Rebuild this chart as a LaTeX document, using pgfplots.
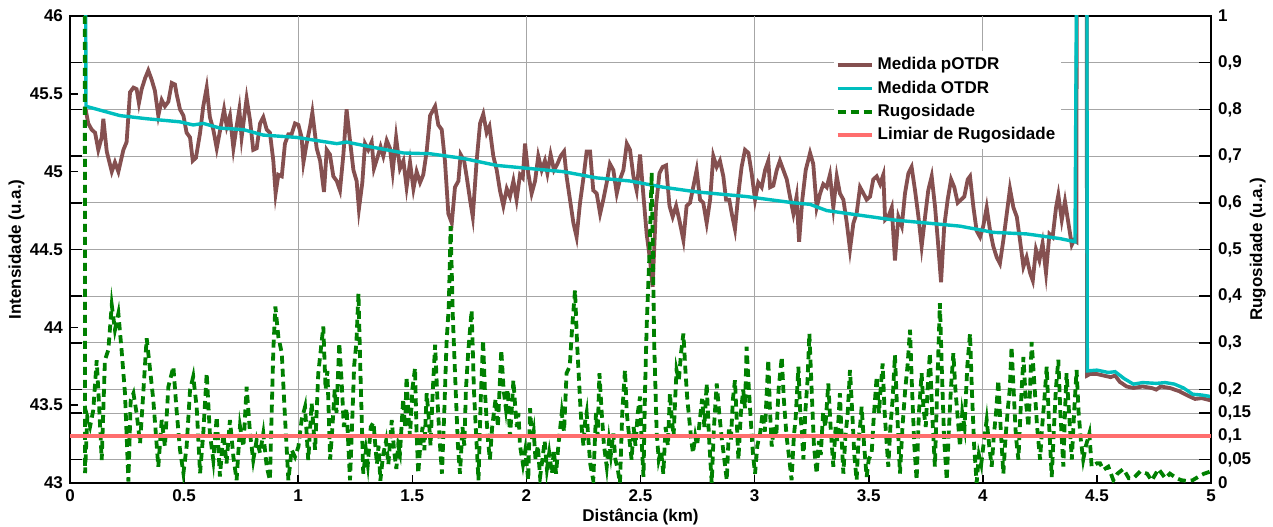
\documentclass[border=0pt]{standalone}
\usepackage{fontspec}
\setmainfont{Liberation Sans}
\usepackage{pgfplots}
\pgfplotsset{compat=1.18}
\usetikzlibrary{calc}

\definecolor{potdr}{RGB}{133,80,80}
\definecolor{otdr}{RGB}{0,190,190}
\definecolor{rug}{RGB}{0,128,0}
\definecolor{lim}{RGB}{255,110,110}

\newcommand{\lblfont}{\fontsize{8.5}{10}\selectfont\bfseries}

\pgfplotsset{
  common/.style={
    scale only axis, width=570.5pt, height=233.5pt,
    xmin=0, xmax=5,
    tick label style={font=\lblfont},
    /pgf/number format/assume math mode=true,
    axis line style={line width=1pt},
    every tick/.style={black, line width=0.8pt},
    tick align=inside,
  },
}

\begin{document}
\begin{tikzpicture}
\begin{axis}[common, name=ax,
  ymin=43, ymax=46,
  ytick={43,43.5,...,46},
  xtick={0,0.5,...,5},
  xtick pos=bottom, ytick pos=left,
  major tick length=4pt,
  extra y ticks={43.15,43.3,43.45,43.6,43.9,44.2,44.5,44.8,45.1,45.4,45.7},
  extra y tick labels={},
  extra y tick style={grid=major, major tick length=6pt},
  extra x ticks={1,2,3,4},
  extra x tick labels={},
  extra x tick style={grid=major},
  major grid style={gray!70, line width=0.4pt},
  xlabel={Distância (km)},
  ylabel={Intensidade (u.a.)},
  every axis x label/.style={font=\lblfont, at={(axis description cs:0.5,-0.072)}, anchor=center},
  every axis y label/.style={font=\lblfont, at={(axis description cs:-0.047,0.5)}, rotate=90, anchor=center},
]
\addplot[potdr, line width=1.9pt] table {
0.066 45.42
0.080 45.31
0.095 45.27
0.110 45.25
0.124 45.14
0.139 45.22
0.146 45.34
0.161 45.13
0.183 45.00
0.197 45.06
0.212 45.00
0.234 45.14
0.248 45.19
0.263 45.51
0.278 45.54
0.292 45.53
0.302 45.44
0.314 45.53
0.329 45.60
0.343 45.65
0.358 45.59
0.372 45.52
0.387 45.36
0.402 45.46
0.416 45.42
0.431 45.45
0.446 45.57
0.460 45.56
0.467 45.50
0.482 45.40
0.497 45.36
0.511 45.25
0.526 45.22
0.538 45.07
0.552 45.09
0.570 45.25
0.584 45.42
0.599 45.54
0.613 45.35
0.628 45.27
0.643 45.15
0.657 45.26
0.675 45.40
0.687 45.29
0.701 45.36
0.716 45.15
0.730 45.29
0.742 45.40
0.752 45.22
0.774 45.47
0.789 45.33
0.803 45.14
0.818 45.15
0.833 45.31
0.847 45.35
0.862 45.27
0.876 45.25
0.891 45.07
0.901 44.86
0.913 44.98
0.928 44.97
0.942 45.18
0.957 45.24
0.971 45.24
0.986 45.31
1.001 45.30
1.015 45.22
1.023 45.06
1.037 45.18
1.052 45.29
1.062 45.38
1.081 45.15
1.096 45.07
1.113 44.87
1.125 45.14
1.139 45.11
1.154 44.97
1.169 44.94
1.183 44.88
1.198 45.11
1.212 45.40
1.227 45.20
1.242 45.01
1.256 44.94
1.266 44.76
1.281 44.93
1.293 45.18
1.307 45.14
1.322 45.19
1.332 45.02
1.347 45.09
1.361 45.16
1.373 45.10
1.388 45.20
1.402 45.15
1.414 45.00
1.429 45.22
1.446 45.02
1.461 45.07
1.475 44.90
1.490 45.06
1.505 44.89
1.519 45.00
1.534 44.93
1.548 44.98
1.563 45.13
1.578 45.36
1.600 45.42
1.614 45.30
1.629 45.27
1.643 45.07
1.658 44.73
1.673 44.67
1.687 44.90
1.702 44.94
1.712 45.11
1.727 45.07
1.738 44.97
1.753 44.82
1.765 44.71
1.782 45.07
1.797 45.31
1.811 45.37
1.826 45.25
1.838 45.29
1.855 45.10
1.870 45.01
1.884 44.88
1.899 44.78
1.914 44.89
1.928 44.84
1.943 44.94
1.957 44.82
1.972 44.98
1.984 44.96
1.994 45.18
2.008 44.99
2.023 44.86
2.038 44.94
2.052 45.10
2.067 45.01
2.081 45.07
2.092 44.99
2.106 45.11
2.121 45.01
2.136 45.05
2.150 45.10
2.165 45.13
2.176 44.97
2.191 44.82
2.206 44.67
2.220 44.58
2.235 44.80
2.250 44.96
2.264 45.13
2.279 45.13
2.293 44.88
2.308 44.86
2.323 44.73
2.337 44.82
2.352 44.93
2.366 45.05
2.381 45.01
2.396 44.86
2.410 44.95
2.425 45.01
2.440 45.18
2.454 45.14
2.469 44.97
2.483 44.88
2.498 45.11
2.512 44.86
2.527 44.60
2.542 44.43
2.553 44.26
2.568 44.78
2.583 44.99
2.597 45.03
2.612 45.04
2.627 44.78
2.641 44.71
2.656 44.78
2.670 44.69
2.688 44.56
2.702 44.78
2.717 44.80
2.731 44.90
2.746 45.01
2.761 44.82
2.775 44.80
2.790 44.67
2.805 44.82
2.819 45.10
2.834 45.03
2.848 45.07
2.863 44.97
2.875 44.82
2.889 44.82
2.900 44.73
2.914 44.63
2.929 44.86
2.943 45.03
2.958 45.14
2.973 45.12
2.987 44.99
3.002 44.82
3.016 44.93
3.031 44.90
3.046 45.01
3.060 45.07
3.068 44.90
3.082 44.91
3.097 45.01
3.111 45.07
3.126 45.01
3.141 44.95
3.155 44.84
3.170 44.73
3.184 44.84
3.195 44.55
3.209 44.82
3.224 45.01
3.243 45.12
3.257 45.05
3.272 44.77
3.287 44.86
3.301 44.92
3.316 44.90
3.330 44.98
3.345 44.77
3.360 44.97
3.374 44.86
3.389 44.82
3.404 44.67
3.418 44.50
3.433 44.67
3.447 44.73
3.462 44.90
3.477 44.86
3.491 44.82
3.506 44.84
3.520 44.95
3.535 44.97
3.550 44.92
3.564 44.98
3.572 44.69
3.586 44.71
3.601 44.77
3.615 44.43
3.630 44.71
3.645 44.65
3.659 44.86
3.674 44.99
3.688 45.03
3.703 44.88
3.718 44.71
3.732 44.52
3.747 44.71
3.761 44.88
3.776 44.97
3.791 44.77
3.805 44.52
3.817 44.29
3.831 44.65
3.846 44.82
3.861 44.95
3.875 44.90
3.890 44.80
3.905 44.82
3.919 44.84
3.934 44.95
3.944 44.97
3.959 44.77
3.973 44.62
3.988 44.58
4.002 44.65
4.017 44.77
4.032 44.62
4.046 44.52
4.061 44.45
4.075 44.41
4.090 44.56
4.105 44.73
4.119 44.89
4.134 44.77
4.149 44.71
4.163 44.56
4.178 44.39
4.192 44.45
4.207 44.35
4.219 44.30
4.233 44.50
4.248 44.43
4.262 44.54
4.277 44.35
4.292 44.60
4.306 44.58
4.321 44.77
4.331 44.85
4.346 44.69
4.360 44.81
4.375 44.67
4.390 44.53
4.400 44.56
4.410 44.55
4.412 46.50
4.455 46.50
4.457 43.69
4.470 43.70
4.500 43.70
4.530 43.69
4.560 43.68
4.580 43.69
4.600 43.65
4.630 43.62
4.660 43.61
4.700 43.62
4.740 43.61
4.760 43.60
4.780 43.62
4.820 43.61
4.860 43.59
4.900 43.56
4.930 43.54
4.960 43.545
5.000 43.53
};
\addplot[otdr, line width=1.7pt] table {
0.068 46.50
0.070 45.42
0.219 45.36
0.336 45.34
0.482 45.32
0.540 45.30
0.584 45.31
0.657 45.28
0.760 45.27
0.847 45.235
0.993 45.22
1.169 45.18
1.212 45.19
1.315 45.16
1.461 45.12
1.578 45.115
1.724 45.085
1.870 45.04
2.016 45.02
2.162 45.00
2.308 44.96
2.454 44.94
2.600 44.90
2.746 44.87
2.892 44.85
2.965 44.84
3.066 44.82
3.170 44.80
3.243 44.79
3.316 44.75
3.462 44.72
3.608 44.69
3.754 44.67
3.900 44.65
4.046 44.61
4.192 44.60
4.338 44.57
4.404 44.55
4.412 46.50
4.456 46.50
4.458 43.72
4.500 43.725
4.550 43.71
4.580 43.715
4.620 43.67
4.660 43.635
4.700 43.645
4.760 43.64
4.800 43.645
4.840 43.635
4.880 43.61
4.920 43.57
4.960 43.565
5.000 43.555
};
\end{axis}

\begin{axis}[common,
  ymin=0, ymax=1,
  axis x line=none,
  axis y line*=right,
  ytick={0,0.05,0.1,0.15,0.2,0.3,0.4,0.5,0.6,0.7,0.8,0.9,1},
  yticklabels={0,{0,05},{0,1},{0,15},{0,2},{0,3},{0,4},{0,5},{0,6},{0,7},{0,8},{0,9},1},
  major tick length=6pt,
  ylabel={Rugosidade (u.a.)},
  every axis y label/.style={font=\lblfont, at={(axis description cs:1.041,0.5)}, rotate=90, anchor=center},
  legend style={at={(0.669,0.925)}, anchor=north west, draw=none, fill=white,
    font=\lblfont, inner sep=1pt, row sep=0pt},
  legend cell align=left,
]
\addlegendimage{potdr, line width=1.9pt}
\addlegendentry{Medida pOTDR}
\addlegendimage{otdr, line width=1.7pt}
\addlegendentry{Medida OTDR}
\addplot[rug, line width=1.9pt, dash pattern=on 4pt off 2.5pt] table {
0.065 1.0
0.066 0.021
0.076 0.142
0.088 0.121
0.102 0.156
0.117 0.263
0.127 0.171
0.139 0.049
0.153 0.263
0.168 0.285
0.183 0.381
0.197 0.328
0.212 0.363
0.226 0.285
0.241 0.192
0.256 0.003
0.266 0.178
0.278 0.192
0.292 0.149
0.307 0.085
0.321 0.192
0.336 0.310
0.351 0.242
0.365 0.178
0.387 0.035
0.402 0.135
0.416 0.078
0.431 0.206
0.453 0.249
0.467 0.156
0.482 0.071
0.497 0.021
0.511 0.078
0.526 0.199
0.540 0.228
0.555 0.163
0.570 0.021
0.584 0.106
0.599 0.235
0.613 0.106
0.628 0.049
0.643 0.142
0.657 0.014
0.672 0.106
0.686 0.042
0.701 0.135
0.716 0.056
0.730 0.006
0.745 0.121
0.760 0.078
0.774 0.206
0.789 0.106
0.803 0.049
0.818 0.092
0.833 0.064
0.847 0.106
0.862 0.035
0.876 0.006
0.891 0.285
0.900 0.378
0.913 0.313
0.928 0.278
0.942 0.142
0.957 0.006
0.971 0.071
0.986 0.056
1.001 0.078
1.015 0.135
1.030 0.163
1.044 0.049
1.059 0.171
1.074 0.071
1.088 0.235
1.110 0.335
1.120 0.200
1.128 0.240
1.140 0.050
1.150 0.120
1.160 0.200
1.168 0.150
1.180 0.300
1.190 0.220
1.200 0.120
1.212 0.160
1.227 0.006
1.238 0.150
1.245 0.250
1.255 0.300
1.264 0.406
1.272 0.250
1.285 0.020
1.297 0.070
1.305 0.040
1.318 0.120
1.330 0.130
1.338 0.080
1.345 0.040
1.352 0.080
1.360 0.005
1.372 0.060
1.385 0.090
1.395 0.040
1.410 0.135
1.420 0.070
1.430 0.030
1.438 0.080
1.446 0.064
1.460 0.180
1.468 0.120
1.475 0.228
1.482 0.150
1.490 0.100
1.500 0.200
1.512 0.246
1.518 0.120
1.526 0.020
1.535 0.080
1.545 0.120
1.553 0.070
1.563 0.192
1.572 0.140
1.580 0.080
1.590 0.200
1.600 0.296
1.610 0.180
1.620 0.090
1.630 0.020
1.640 0.150
1.650 0.300
1.660 0.380
1.668 0.550
1.678 0.350
1.690 0.200
1.700 0.080
1.709 0.020
1.720 0.120
1.728 0.080
1.735 0.200
1.745 0.280
1.760 0.370
1.770 0.200
1.780 0.100
1.790 0.006
1.800 0.180
1.810 0.306
1.818 0.200
1.825 0.140
1.832 0.090
1.840 0.050
1.850 0.120
1.865 0.180
1.875 0.120
1.890 0.285
1.900 0.200
1.910 0.160
1.918 0.200
1.928 0.100
1.935 0.150
1.943 0.220
1.950 0.170
1.958 0.120
1.965 0.150
1.972 0.080
1.985 0.040
1.995 0.070
2.008 0.006
2.016 0.160
2.025 0.090
2.032 0.110
2.040 0.050
2.050 0.080
2.060 0.013
2.070 0.050
2.080 0.090
2.090 0.030
2.100 0.064
2.112 0.020
2.120 0.070
2.130 0.020
2.140 0.080
2.155 0.150
2.165 0.110
2.176 0.235
2.190 0.250
2.200 0.330
2.213 0.413
2.222 0.300
2.235 0.178
2.242 0.120
2.250 0.080
2.257 0.130
2.264 0.150
2.272 0.090
2.280 0.040
2.293 0.006
2.305 0.150
2.312 0.100
2.320 0.235
2.330 0.150
2.340 0.080
2.352 0.035
2.362 0.090
2.370 0.060
2.381 0.106
2.390 0.050
2.400 0.030
2.410 0.000
2.420 0.150
2.432 0.242
2.440 0.150
2.450 0.100
2.461 0.050
2.470 0.120
2.478 0.080
2.488 0.150
2.498 0.185
2.505 0.090
2.513 0.013
2.520 0.200
2.527 0.335
2.540 0.500
2.549 0.665
2.560 0.300
2.571 0.106
2.580 0.050
2.590 0.070
2.600 0.020
2.610 0.120
2.620 0.080
2.629 0.192
2.637 0.140
2.645 0.100
2.652 0.180
2.658 0.242
2.668 0.220
2.678 0.280
2.688 0.320
2.697 0.240
2.705 0.180
2.717 0.120
2.723 0.090
2.730 0.064
2.740 0.100
2.748 0.080
2.760 0.135
2.770 0.180
2.780 0.120
2.790 0.213
2.800 0.100
2.812 0.000
2.822 0.120
2.834 0.213
2.845 0.150
2.855 0.100
2.865 0.060
2.878 0.006
2.888 0.120
2.896 0.090
2.905 0.180
2.914 0.220
2.922 0.130
2.929 0.050
2.940 0.150
2.950 0.200
2.958 0.160
2.965 0.292
2.975 0.200
2.985 0.120
2.993 0.060
3.002 0.020
3.012 0.080
3.024 0.106
3.035 0.150
3.045 0.110
3.060 0.264
3.067 0.160
3.075 0.078
3.085 0.120
3.095 0.100
3.105 0.200
3.119 0.270
3.128 0.180
3.140 0.100
3.150 0.060
3.162 0.006
3.172 0.100
3.180 0.140
3.192 0.249
3.200 0.150
3.207 0.110
3.214 0.050
3.222 0.150
3.232 0.220
3.240 0.320
3.250 0.200
3.260 0.080
3.272 0.020
3.282 0.090
3.290 0.060
3.300 0.150
3.310 0.120
3.323 0.213
3.333 0.120
3.345 0.035
3.355 0.120
3.362 0.090
3.374 0.192
3.381 0.100
3.389 0.020
3.398 0.100
3.408 0.150
3.418 0.242
3.428 0.150
3.437 0.060
3.447 0.006
3.455 0.090
3.462 0.120
3.469 0.163
3.480 0.080
3.491 0.013
3.500 0.050
3.513 0.064
3.522 0.140
3.535 0.228
3.545 0.150
3.552 0.200
3.561 0.256
3.570 0.150
3.578 0.090
3.586 0.035
3.595 0.120
3.605 0.180
3.615 0.274
3.625 0.150
3.637 0.020
3.648 0.120
3.660 0.200
3.670 0.250
3.681 0.328
3.690 0.200
3.700 0.080
3.710 0.006
3.720 0.150
3.732 0.235
3.740 0.160
3.750 0.120
3.758 0.200
3.768 0.278
3.778 0.150
3.790 0.035
3.800 0.200
3.812 0.385
3.820 0.250
3.830 0.100
3.842 0.006
3.852 0.120
3.860 0.200
3.871 0.278
3.880 0.200
3.890 0.140
3.900 0.078
3.910 0.150
3.920 0.120
3.932 0.250
3.944 0.320
3.952 0.200
3.962 0.080
3.973 0.000
3.983 0.060
3.993 0.040
4.005 0.090
4.017 0.135
4.028 0.080
4.039 0.035
4.048 0.100
4.058 0.150
4.068 0.220
4.078 0.120
4.090 0.020
4.100 0.100
4.110 0.160
4.118 0.200
4.126 0.292
4.135 0.200
4.145 0.100
4.156 0.050
4.165 0.150
4.178 0.270
4.188 0.180
4.200 0.120
4.207 0.200
4.214 0.302
4.225 0.220
4.238 0.120
4.251 0.050
4.260 0.120
4.270 0.180
4.280 0.249
4.290 0.130
4.302 0.013
4.312 0.120
4.320 0.200
4.331 0.264
4.340 0.150
4.353 0.035
4.360 0.150
4.367 0.235
4.378 0.150
4.390 0.050
4.400 0.150
4.411 0.242
4.420 0.150
4.430 0.090
4.440 0.050
4.452 0.080
4.467 0.106
4.477 0.035
4.499 0.042
4.514 0.042
4.528 0.028
4.550 0.035
4.572 0.006
4.590 0.020
4.616 0.030
4.640 0.010
4.660 0.010
4.690 0.025
4.720 0.020
4.740 0.005
4.770 0.030
4.800 0.010
4.820 0.020
4.850 0.010
4.870 0.006
4.900 0.004
4.920 0.006
4.950 0.015
4.970 0.020
5.000 0.025
};
\addlegendentry{Rugosidade}
\addplot[lim, line width=1.9pt] coordinates {(0,0.1) (5,0.1)};
\addlegendentry{Limiar de Rugosidade}
\end{axis}

\pgfresetboundingbox
\path[use as bounding box] ($(ax.south west)+(-35pt,-22pt)$) rectangle ($(ax.north east)+(31pt,8pt)$);
\end{tikzpicture}
\end{document}
